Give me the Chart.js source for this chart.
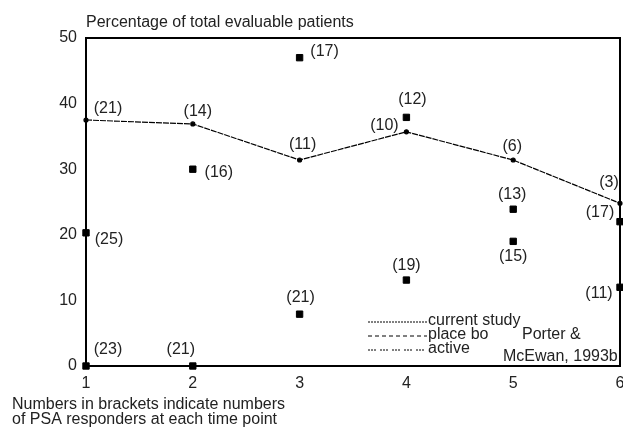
<!DOCTYPE html>
<html>
<head>
<meta charset="utf-8">
<script src="https://cdn.jsdelivr.net/npm/chart.js@4.4.1/dist/chart.umd.min.js"></script>
<style>
  html, body { margin: 0; padding: 0; background: #fff; }
  #wrap { position: relative; width: 623px; height: 432px; }
</style>
</head>
<body>
<div id="wrap"><canvas id="c" width="623" height="432"></canvas></div>
<script>
// ---- data ----
const timePoints = [1, 2, 3, 4, 5, 6];
const currentStudy = [37.5, 36.9, 31.4, 35.7, 31.4, 24.8];
const currentLabels = ["(21)", "(14)", "(11)", "(10)", "(6)", "(3)"];
const placebo = [20.3, 30, 47, 37.9, 23.9, 22];
const placeboLabels = ["(25)", "(16)", "(17)", "(12)", "(13)", "(17)"];
const active = [0, 0, 7.9, 13.1, 19, 12];
const activeLabels = ["(23)", "(21)", "(21)", "(19)", "(15)", "(11)"];
const yTicks = [0, 10, 20, 30, 40, 50];
const legendLabels = ["current study", "place bo", "active"];
const yTitle = "Percentage of total evaluable patients";
const footnote = ["Numbers in brackets indicate numbers", "of PSA responders at each time point"];
const sourceNote = ["Porter &", "McEwan, 1993b"];

// label placement (pixel offsets from each mark)
const currentOffsets = [[22,-11],[5,-12],[3,-15],[-22,-6],[-1,-13],[-11,-21]];
const placeboOffsets = [[23,7],[26,3],[25,-6],[6,-18],[-1,-15],[-20,-9]];
const activeOffsets = [[22,-16],[-12,-16],[1,-17],[0,-14],[0,15],[-21,6]];

const FONT = "Liberation Sans, Arial, Helvetica, sans-serif";
const FS = 16;
const toPts = arr => arr.map((v, i) => ({x: timePoints[i], y: v}));

const annotatePlugin = {
  id: 'annotate',
  afterDatasetsDraw(chart) {
    const ctx = chart.ctx;
    const ca = chart.chartArea;
    const xs = chart.scales.x, ys = chart.scales.y;
    ctx.save();
    // frame
    ctx.strokeStyle = '#000';
    ctx.lineWidth = 2;
    ctx.strokeRect(ca.left, ca.top, ca.right - ca.left, ca.bottom - ca.top);

    ctx.fillStyle = '#222';
    ctx.font = FS + 'px ' + FONT;
    ctx.textAlign = 'center';
    ctx.textBaseline = 'middle';
    const groups = [[currentStudy, currentLabels, currentOffsets],
                    [placebo, placeboLabels, placeboOffsets],
                    [active, activeLabels, activeOffsets]];
    groups.forEach(([vals, labs, offs]) => {
      vals.forEach((v, i) => {
        const px = xs.getPixelForValue(timePoints[i]);
        const py = ys.getPixelForValue(v);
        ctx.fillText(labs[i], px + offs[i][0], py + offs[i][1]);
      });
    });

    // y title
    ctx.textAlign = 'left';
    ctx.fillText(yTitle, ca.left, 23);

    // footnote
    ctx.fillText(footnote[0], 12, 405);
    ctx.fillText(footnote[1], 12, 420);

    // legend
    const lx0 = 368, lx1 = 427;
    const rows = [321, 335, 349];
    const dashes = [[2,1], [4,3], [2,1,2,1,2,4]];
    ctx.strokeStyle = '#000';
    ctx.lineWidth = 1;
    rows.forEach((ry, i) => {
      ctx.beginPath();
      ctx.setLineDash(dashes[i]);
      ctx.moveTo(lx0, ry + 1);
      ctx.lineTo(lx1, ry + 1);
      ctx.stroke();
      ctx.setLineDash([]);
      ctx.fillText(legendLabels[i], lx1 + 1, ry);
    });
    ctx.fillText(sourceNote[0], 522, 335);
    ctx.fillText(sourceNote[1], 503, 357);
    ctx.restore();
  }
};

new Chart(document.getElementById('c'), {
  type: 'scatter',
  data: {
    datasets: [
      {
        type: 'line',
        label: legendLabels[0],
        data: toPts(currentStudy),
        borderColor: '#000',
        backgroundColor: '#000',
        borderWidth: 1.2,
        borderDash: [6, 1],
        pointRadius: 2,
        pointStyle: 'circle',
        tension: 0,
        clip: false
      },
      {
        label: legendLabels[1],
        data: toPts(placebo),
        pointStyle: 'rect',
        pointRadius: 4.5,
        borderWidth: 1,
        borderColor: '#000',
        backgroundColor: '#000',
        clip: false
      },
      {
        label: legendLabels[2],
        data: toPts(active),
        pointStyle: 'rect',
        pointRadius: 4.5,
        borderWidth: 1,
        borderColor: '#000',
        backgroundColor: '#000',
        clip: false
      }
    ]
  },
  options: {
    responsive: false,
    animation: false,
    layout: { autoPadding: false, padding: { top: 38, right: 3, left: 0, bottom: 0 } },
    plugins: { legend: { display: false }, tooltip: { enabled: false } },
    scales: {
      x: {
        type: 'linear',
        min: 1, max: 6,
        grid: { display: false, drawTicks: false },
        border: { display: true, color: '#000', width: 2 },
        afterBuildTicks: s => { s.ticks = timePoints.map(v => ({value: v})); },
        ticks: { color: '#222', font: { family: FONT, size: FS }, padding: 8, maxRotation: 0, autoSkip: false },
        afterFit: s => { s.height = 66; s.paddingRight = 0; s.paddingLeft = 0; }
      },
      y: {
        min: 0, max: 50,
        grid: { display: false, drawTicks: false },
        border: { display: true, color: '#000', width: 2 },
        afterBuildTicks: s => { s.ticks = yTicks.map(v => ({value: v})); },
        ticks: { color: '#222', font: { family: FONT, size: FS }, padding: 9 },
        afterFit: s => { s.width = 86; s.paddingTop = 0; s.paddingBottom = 0; }
      }
    }
  },
  plugins: [annotatePlugin]
});
</script>
</body>
</html>
